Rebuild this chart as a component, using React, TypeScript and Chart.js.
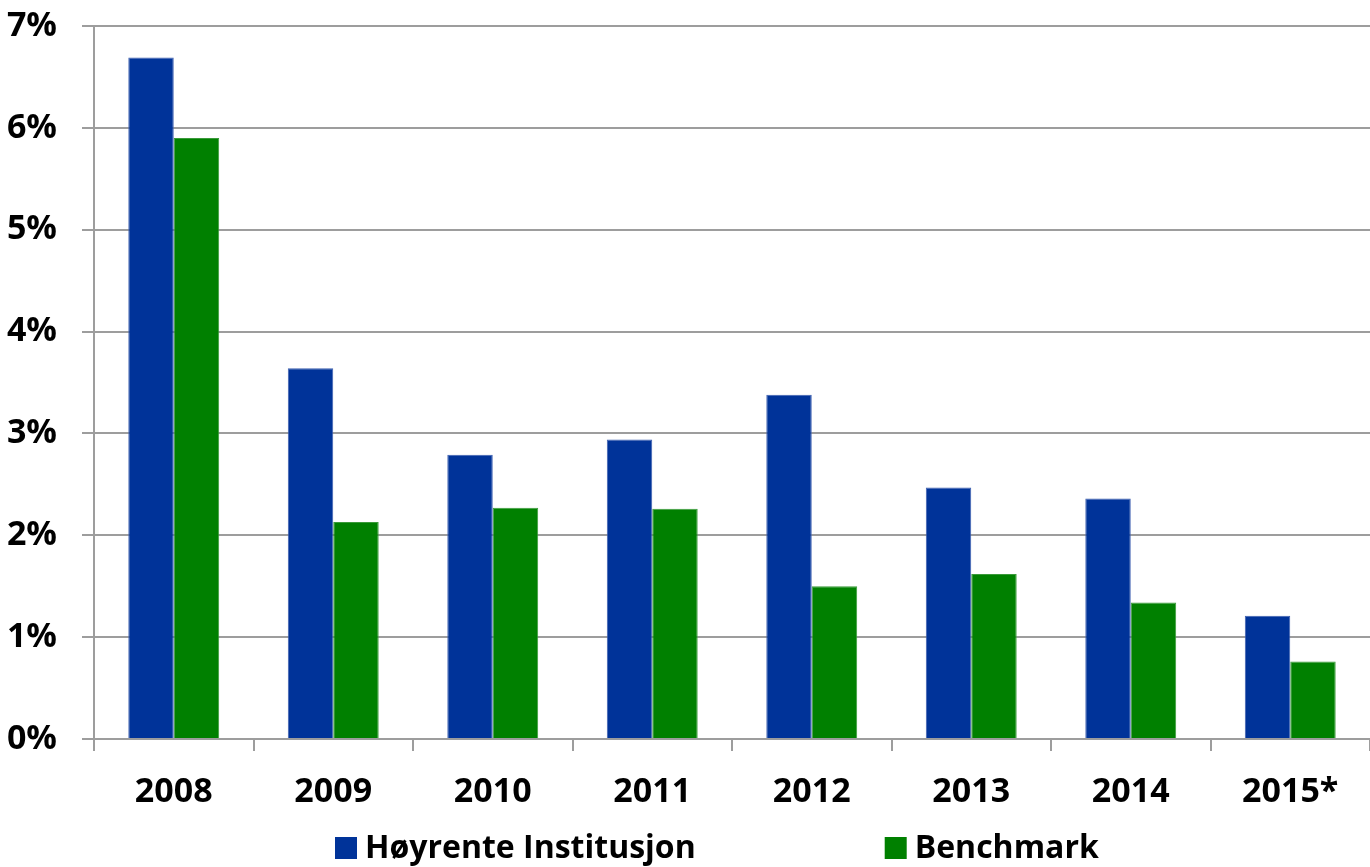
import React, { useEffect, useRef } from "react";
import { Chart, registerables } from "chart.js";
Chart.register(...registerables);

const categories = ["2008", "2009", "2010", "2011", "2012", "2013", "2014", "2015*"];
const hoyrente = [6.69, 3.64, 2.79, 2.94, 3.38, 2.47, 2.36, 1.21];
const benchmark = [5.9, 2.13, 2.27, 2.26, 1.5, 1.62, 1.34, 0.76];
const seriesNames = ["Høyrente Institusjon", "Benchmark"];
const seriesColors = ["#003399", "#008000"];
const seriesBorders = ["#3d5fb0", "#3a9a3a"];
const yMax = 7;

const FONT = "'Open Sans', sans-serif";
const GRID = "#9d9d9d";

const legendPlugin = {
  id: "customLegend",
  afterDraw(chart: any) {
    const ctx = chart.ctx;
    ctx.save();
    ctx.font = `bold 32px ${FONT}`;
    ctx.textBaseline = "middle";
    ctx.textAlign = "left";
    const y = 848;
    let x = 335;
    chart.data.datasets.forEach((ds: any) => {
      ctx.fillStyle = ds.backgroundColor;
      ctx.fillRect(x, y - 11, 22, 22);
      x += 30;
      ctx.fillStyle = "#000";
      ctx.fillText(ds.label, x, y + 1);
      x += ctx.measureText(ds.label).width + 189;
    });
    ctx.restore();
  },
};

export default function App() {
  const ref = useRef<HTMLCanvasElement | null>(null);
  useEffect(() => {
    if (!ref.current) return;
    const chart = new Chart(ref.current, {
      type: "bar",
      data: {
        labels: categories,
        datasets: [hoyrente, benchmark].map((d, i) => ({
          label: seriesNames[i],
          data: d,
          backgroundColor: seriesColors[i],
          borderColor: seriesBorders[i],
          borderWidth: 1,
          categoryPercentage: 0.57,
          barPercentage: 1,
        })),
      },
      options: {
        animation: false,
        responsive: false,
        layout: { padding: { top: 26, left: 0, right: 0, bottom: 48 } },
        plugins: { legend: { display: false }, tooltip: { enabled: false } },
        scales: {
          x: {
            offset: true,
            grid: {
              offset: true,
              drawOnChartArea: false,
              drawTicks: true,
              tickLength: 12,
              color: GRID,
              lineWidth: 2,
            },
            border: { display: true, color: GRID, width: 2 },
            ticks: {
              color: "#000",
              font: { family: FONT, size: 34, weight: "bold" },
              padding: 21,
              maxRotation: 0,
            },
            afterFit: (s: any) => {
              s.height = 80;
              s.paddingLeft = 0;
              s.paddingRight = 0;
            },
          },
          y: {
            min: 0,
            max: yMax,
            grid: { color: GRID, lineWidth: 2, tickLength: 12 },
            border: { display: true, color: GRID, width: 2 },
            ticks: {
              stepSize: 1,
              color: "#000",
              padding: 25,
              font: { family: FONT, size: 34, weight: "bold" },
              callback: (v: any) => `${v}%`,
            },
            afterFit: (s: any) => {
              s.width = 94;
              s.paddingTop = 0;
              s.paddingBottom = 0;
            },
          },
        },
      },
      plugins: [legendPlugin],
    });
    return () => chart.destroy();
  }, []);
  return (
    <div style={{ position: "absolute", left: 0, top: 0, width: 1370, height: 867, background: "#fff" }}>
      <canvas ref={ref} width={1370} height={867} />
    </div>
  );
}
